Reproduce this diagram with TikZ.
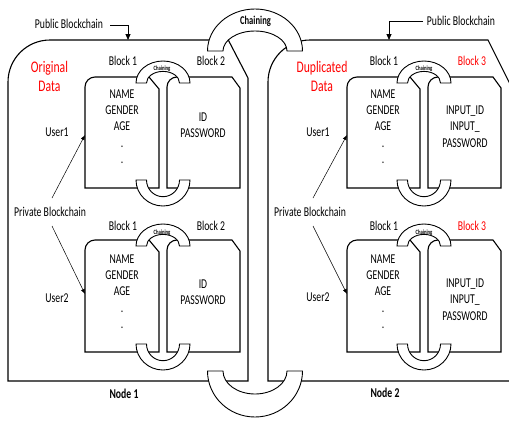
\documentclass[tikz,border=0pt]{standalone}
\usepackage{fontspec}
\setmainfont{Carlito}[FakeStretch=0.72]
\usetikzlibrary{arrows.meta}
% ring opening upwards: center x, foot y, outer rx, outer ry, inner rx, inner ry
\newcommand\ringup[6]{%
  \draw[ringline] (#1-#3,#2) arc[start angle=180,end angle=360,x radius=#3,y radius=#4]
    -- (#1+#5,#2) arc[start angle=0,end angle=-180,x radius=#5,y radius=#6] -- cycle;}
\newcommand\ringdown[6]{%
  \draw[ringline] (#1-#3,#2) arc[start angle=180,end angle=0,x radius=#3,y radius=#4]
    -- (#1+#5,#2) arc[start angle=0,end angle=180,x radius=#5,y radius=#6] -- cycle;}
% private block pair: L, R, T, B, cx
\newcommand\pblock[5]{%
  \draw[boxline] (#1,#4) -- (#1,#3+10) arc[start angle=180,end angle=270,radius=10]
    -- (#5-14,#3) -- (#5-4,#3+12) -- (#5-4,#4) -- cycle;
  \draw[boxline] (#5+4,#4) -- (#5+4,#3+10) arc[start angle=180,end angle=270,radius=10]
    -- (#2-8,#3) -- (#2,#3+11) -- (#2,#4) -- cycle;
  \ringup{#5}{#3+6}{27}{22}{16.5}{11.6}
  \ringdown{#5}{#4-8}{27}{26}{16.5}{16.7}}
\begin{document}
\begin{tikzpicture}[x=1pt,y=-1pt,
  boxline/.style={draw=black,line width=1.1pt},
  ringline/.style={draw=black,fill=white,line width=0.9pt},
  lbl/.style={font=\fontsize{13.5}{16.3}\selectfont,inner sep=0pt,align=center},
  redlbl/.style={font=\fontsize{16.2}{19}\selectfont,text=red,inner sep=0pt,align=center},
  nodelbl/.style={font=\bfseries\fontsize{13.5}{15}\selectfont,inner sep=0pt},
  chainbig/.style={font=\bfseries\fontsize{11.9}{13}\selectfont,inner sep=0pt},
  chainsmall/.style={font=\bfseries\fontsize{6.5}{7}\selectfont,inner sep=0pt},
  thinarrow/.style={draw=black,line width=0.5pt,-{Latex[length=5pt,width=4pt]}},
  pubarrow/.style={draw=black,line width=0.8pt,-{Triangle[length=6pt,width=5pt]}}]
\useasboundingbox (0,0) rectangle (509,421);
\clip (0,0) rectangle (509,421);
\fill[white] (0,0) rectangle (509,421);

% Node 1 and Node 2 outlines
\draw[boxline] (248,381) -- (8,381) -- (8,82) arc[start angle=180,end angle=270,radius=42]
  -- (228.3,40) -- (248,78) -- cycle;
\draw[boxline] (268,381) -- (268,82) arc[start angle=180,end angle=270,radius=42]
  -- (488,40) -- (512,88) -- (512,381) -- cycle;

% big chaining rings
\ringup{255}{51}{47.5}{42}{32}{20}
\ringdown{255}{371}{47.5}{46}{32}{23}

% private blocks
\pblock{85}{240}{77}{188}{163}
\pblock{85}{240}{240}{352}{163}
\pblock{347}{501}{77}{188}{424}
\pblock{347}{501}{240}{352}{424}

% top labels
\node[chainbig] (chainmain) at (255.5,21) {Chaining};
\node[lbl] (pubL) at (69,24) {Public Blockchain};
\node[lbl] (pubR) at (461,21) {Public Blockchain};
\coordinate (pubLs) at (110,25);
\coordinate (pubLe) at (128,40);
\coordinate (pubRs) at (423,21);
\coordinate (pubRe) at (389,40);
\draw[pubarrow] (pubLs) -| (pubLe);
\draw[pubarrow] (pubRs) -| (pubRe);

\node[redlbl,anchor=north] (orig) at (49.5,61.5) {Original\\Data};
\node[redlbl,anchor=north] (dup) at (322,61.5) {Duplicated\\Data};

% block labels, upper row
\node[lbl] (b1a) at (123,61) {Block 1};
\node[lbl] (b2a) at (211,61) {Block 2};
\node[chainsmall] (ca) at (162,68.5) {Chaining};
\node[lbl] (b1b) at (384,61) {Block 1};
\node[lbl,text=red] (b3b) at (472,61) {Block 3};
\node[chainsmall] (cb) at (424,68.5) {Chaining};
% lower row
\node[lbl] (b1c) at (123,226) {Block 1};
\node[lbl] (b2c) at (211,226) {Block 2};
\node[chainsmall] (cc) at (162,233) {Chaining};
\node[lbl] (b1d) at (384,226) {Block 1};
\node[lbl,text=red] (b3d) at (472,226) {Block 3};
\node[chainsmall] (cd) at (424,233) {Chaining};

% contents
\node[lbl,anchor=north] (d1a) at (122,89.5) {NAME\\GENDER\\AGE\\.\\.};
\node[lbl,anchor=north] (d2a) at (203,112.5) {ID\\PASSWORD};
\node[lbl,anchor=north] (d1b) at (383,89.5) {NAME\\GENDER\\AGE\\.\\.};
\node[lbl,anchor=north,font=\fontsize{13.5}{16.5}\selectfont] (d3b) at (465,105.5) {INPUT\_ID\\INPUT\_\\PASSWORD};
\node[lbl,anchor=north] (d1c) at (122,254.5) {NAME\\GENDER\\AGE\\.\\.};
\node[lbl,anchor=north] (d2c) at (203,279.5) {ID\\PASSWORD};
\node[lbl,anchor=north] (d1d) at (383,254.5) {NAME\\GENDER\\AGE\\.\\.};
\node[lbl,anchor=north,font=\fontsize{13.5}{16.5}\selectfont] (d3d) at (465,278.5) {INPUT\_ID\\INPUT\_\\PASSWORD};

% users and private blockchain
\node[lbl] (u1L) at (57,132) {User1};
\node[lbl] (u2L) at (57,298) {User2};
\node[lbl] (u1R) at (318,132) {User1};
\node[lbl] (u2R) at (318,297) {User2};
\node[lbl] (privL) at (50,212) {Private Blockchain};
\node[lbl] (privR) at (310,212) {Private Blockchain};
\coordinate (pLa) at (52,198);
\coordinate (pLb) at (52,226);
\coordinate (pRa) at (313,198);
\coordinate (pRb) at (313,226);
\coordinate (tL1) at (85,135);
\coordinate (tL2) at (85,294);
\coordinate (tR1) at (347,135);
\coordinate (tR2) at (347,294);
\draw[thinarrow] (pLa) -- (tL1);
\draw[thinarrow] (pLb) -- (tL2);
\draw[thinarrow] (pRa) -- (tR1);
\draw[thinarrow] (pRb) -- (tR2);

% node labels
\node[nodelbl] (n1) at (124,394) {Node 1};
\node[nodelbl] (n2) at (385,393) {Node 2};
\end{tikzpicture}
\end{document}
